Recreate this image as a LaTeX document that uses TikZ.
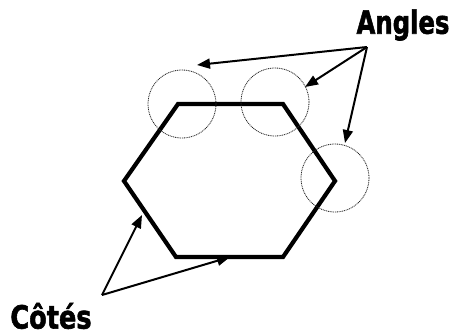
\documentclass[tikz,border=0pt]{standalone}
\usepackage{fontspec}
\setmainfont{DejaVu Sans}
\newfontfamily\heavyfont[FakeBold=2]{DejaVu Sans Bold}
\usetikzlibrary{arrows.meta}
\begin{document}
\begin{tikzpicture}[x=1pt,y=-1pt,
  hexline/.style={line width=4.2pt,line join=miter},
  ring/.style={draw=black!85,line width=0.8pt,dash pattern=on 1pt off 0.8pt,circle,minimum size=68pt,inner sep=0pt},
  pointer/.style={line width=2pt,-{Triangle[length=13pt,width=10pt]}},
  label/.style={font=\heavyfont\fontsize{32}{34}\selectfont,inner sep=0pt}]
\useasboundingbox (0,0) rectangle (456,335);
% hexagon
\coordinate (h1) at (178,104);
\coordinate (h2) at (283,104);
\coordinate (h3) at (335,181);
\coordinate (h4) at (283,257);
\coordinate (h5) at (176,257);
\coordinate (h6) at (124,181);
\draw[hexline] (h1) -- (h2) -- (h3) -- (h4) -- (h5) -- (h6) -- cycle;
% circles
\node[ring] (c1) at (182,104) {};
\node[ring] (c2) at (275,102) {};
\node[ring] (c3) at (335,178) {};
% labels
\node[label,xscale=0.76] (angles) at (403,25) {Angles};
\node[label,xscale=0.8] (cotes) at (51,316) {Côtés};
% arrow apexes and targets
\coordinate (ta) at (367,47);
\coordinate (tc) at (102,295);
\coordinate (e1) at (197,65);
\coordinate (e2) at (305,87);
\coordinate (e3) at (345,143);
\coordinate (e4) at (142,215);
\coordinate (e5) at (230,257);
\draw[pointer] (ta) -- (e1);
\draw[pointer] (ta) -- (e2);
\draw[pointer] (ta) -- (e3);
\draw[pointer] (tc) -- (e4);
\draw[pointer] (tc) -- (e5);
\end{tikzpicture}
\end{document}
